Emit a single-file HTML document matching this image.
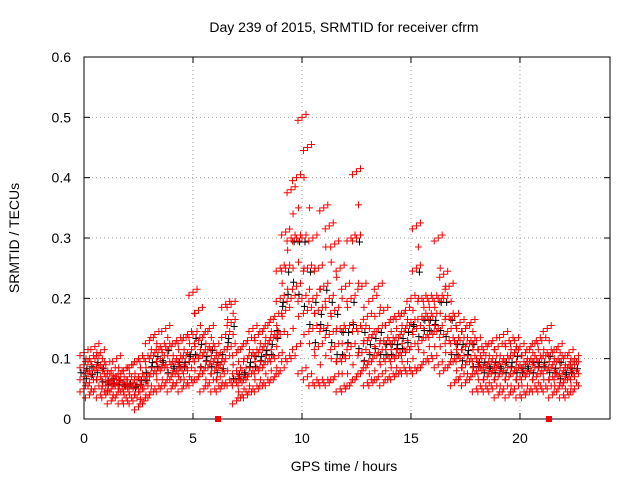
<!DOCTYPE html>
<html><head><meta charset="utf-8"><style>
body{margin:0;background:#fff}
svg text{font-family:"Liberation Sans",sans-serif;font-size:14px;fill:#000}
</style></head><body>
<svg id="chart" width="640" height="480">
<text x="344" y="32" text-anchor="middle">Day 239 of 2015, SRMTID for receiver cfrm</text>
<text x="344" y="471" text-anchor="middle">GPS time / hours</text>
<text x="19" y="238" text-anchor="middle" transform="rotate(-90 19 238)">SRMTID / TECUs</text>
<g id="grid"></g>
<g id="axes"></g>
<g id="points"></g>
<rect x="84" y="57" width="526" height="362" fill="none" stroke="#000"/>
<rect x="215" y="416" width="6" height="6" fill="#ff0000"/>
<rect x="546" y="416" width="6" height="6" fill="#ff0000"/>
</svg>
<script>
const xTicks=[0,5,10,15,20];
const yTicks=[0,0.1,0.2,0.3,0.4,0.5,0.6];
const yTickLabels=["0","0.1","0.2","0.3","0.4","0.5","0.6"];
const times=[0,0.25,0.5,0.75,1,1.25,1.5,1.75,2,2.25,2.5,2.75,3,3.25,3.5,3.75,4,4.25,4.5,4.75,5,5.25,5.5,5.75,6,6.25,6.5,6.75,7,7.25,7.5,7.75,8,8.25,8.5,8.75,9,9.25,9.5,9.75,10,10.25,10.5,10.75,11,11.25,11.5,11.75,12,12.25,12.5,12.75,13,13.25,13.5,13.75,14,14.25,14.5,14.75,15,15.25,15.5,15.75,16,16.25,16.5,16.75,17,17.25,17.5,17.75,18,18.25,18.5,18.75,19,19.25,19.5,19.75,20,20.25,20.5,20.75,21,21.25,21.5,21.75,22,22.25,22.5];
const low=[.05,.04,.05,.04,.04,.03,.04,.03,.03,.03,.02,.03,.04,.05,.05,.06,.05,.06,.05,.06,.06,.07,.05,.06,.05,.05,.06,.06,.03,.04,.04,.05,.05,.06,.06,.07,.08,.1,.1,.12,.08,.07,.06,.06,.06,.06,.07,.05,.05,.06,.07,.08,.06,.06,.07,.06,.07,.07,.08,.08,.08,.08,.09,.1,.1,.09,.08,.09,.06,.07,.06,.07,.05,.05,.05,.05,.04,.05,.04,.05,.04,.04,.05,.05,.05,.05,.04,.05,.04,.04,.05];
const mid1=[.07,.06,.08,.07,.055,.05,.06,.05,.05,.05,.045,.05,.07,.08,.08,.09,.07,.08,.08,.08,.1,.1,.08,.09,.08,.07,.1,.12,.06,.06,.07,.08,.08,.09,.1,.1,.14,.18,.2,.22,.2,.18,.15,.12,.15,.14,.12,.1,.1,.12,.15,.11,.09,.1,.11,.1,.1,.1,.11,.11,.12,.15,.13,.14,.14,.15,.14,.13,.1,.1,.09,.1,.08,.08,.07,.08,.07,.08,.07,.08,.07,.07,.08,.07,.08,.08,.07,.07,.06,.07,.07];
const mid2=[.09,.08,.1,.09,.07,.065,.07,.06,.065,.06,.07,.07,.1,.11,.1,.12,.09,.1,.1,.11,.14,.13,.11,.12,.1,.09,.14,.16,.08,.08,.1,.11,.11,.12,.13,.14,.2,.25,.3,.3,.3,.25,.2,.18,.22,.2,.18,.15,.15,.2,.3,.15,.13,.14,.15,.13,.13,.13,.14,.15,.16,.25,.17,.17,.17,.2,.2,.17,.13,.13,.12,.13,.1,.1,.09,.1,.09,.1,.1,.11,.09,.09,.1,.1,.1,.11,.09,.1,.08,.09,.09];
const high=[.11,.1,.12,.11,.09,.08,.1,.08,.085,.09,.1,.1,.13,.14,.12,.15,.12,.13,.13,.14,.21,.18,.14,.15,.12,.11,.19,.19,.11,.12,.13,.15,.14,.15,.16,.17,.25,.31,.38,.4,.5,.45,.3,.25,.35,.32,.29,.25,.22,.3,.41,.22,.17,.2,.22,.18,.16,.17,.17,.18,.2,.32,.2,.2,.2,.3,.24,.22,.17,.16,.15,.16,.13,.12,.12,.13,.12,.14,.13,.13,.12,.11,.12,.13,.13,.15,.11,.12,.1,.11,.1];

const X0=84,X1=610,Y0=419,Y1=57,XMAX=24.13,YMAX=0.6;
const xs=v=>X0+(X1-X0)*v/XMAX;
const ys=v=>Y0-(Y0-Y1)*v/YMAX;
const NS="http://www.w3.org/2000/svg";
function mk(tag,attrs,parent){const e=document.createElementNS(NS,tag);for(const k in attrs)e.setAttribute(k,attrs[k]);parent.appendChild(e);return e;}
const grid=document.getElementById('grid'),axes=document.getElementById('axes'),pts=document.getElementById('points');
yTicks.forEach((v,i)=>{
  const y=ys(v);
  if(i>0&&i<yTicks.length-1){const g=mk('line',{x1:X0,x2:X1,y1:y,y2:y,stroke:'#a0a0a0','stroke-dasharray':'1,3'},grid);
  
  }
  mk('line',{x1:X0,x2:X0+6,y1:y,y2:y,stroke:'#000'},axes);
  mk('line',{x1:X1-6,x2:X1,y1:y,y2:y,stroke:'#000'},axes);
  const t=mk('text',{x:X0-13,y:y+5,'text-anchor':'end'},axes);t.textContent=yTickLabels[i];
  
  
});
xTicks.forEach((v,i)=>{
  const x=xs(v);
  if(i>0){const g=mk('line',{x1:x,x2:x,y1:Y0,y2:Y1,stroke:'#a0a0a0','stroke-dasharray':'1,3'},grid);
  
  }
  mk('line',{x1:x,x2:x,y1:Y0,y2:Y0-6,stroke:'#000'},axes);
  mk('line',{x1:x,x2:x,y1:Y1,y2:Y1+6,stroke:'#000'},axes);
  const t=mk('text',{x:x,y:Y0+24,'text-anchor':'middle'},axes);t.textContent=String(v);
  
  
});
const offs=[[-4,3],[0,0],[4,-3]];
function plus(x,y,c){
  const p=mk('path',{d:`M${x-3.5} ${y}h7M${x} ${y-3.5}v7`,stroke:c,'stroke-width':1,fill:'none'},pts);
  
  
}
const series=[low,mid1,mid2,high];
times.forEach((t,i)=>{
  plus(xs(t)+3,ys(mid2[i])+4,'#000');
  plus(xs(t)-3,ys(mid1[i])-4,'#000');
});
series.forEach(s=>{
  times.forEach((t,i)=>{
    offs.forEach(o=>{plus(xs(t)+o[0],ys(s[i])+o[1],'#ff0000');});
  });
});
times.forEach((t,i)=>{
  for(let k=0;k<3;k++){
    const a=series[k][i],b=series[k+1][i];
    plus(xs(t)+2,ys((a+b)/2),'#ff0000');
  }
});
</script>
</body></html>
